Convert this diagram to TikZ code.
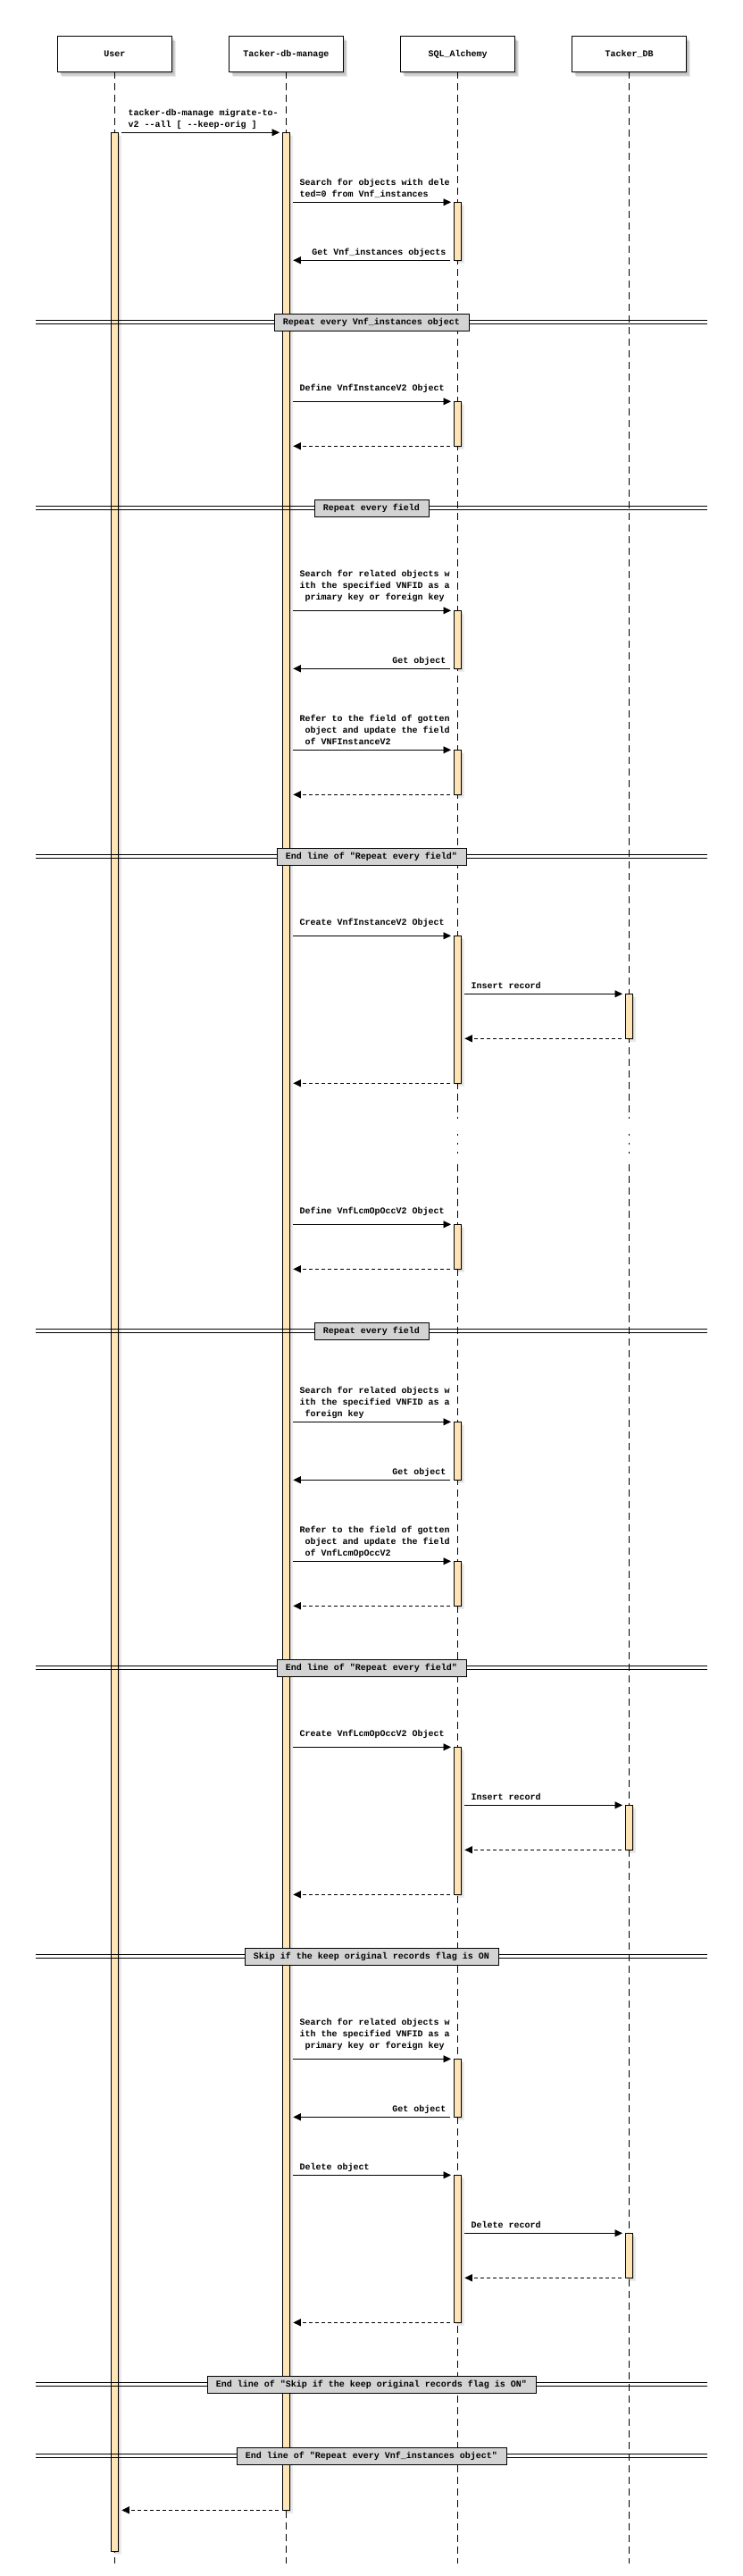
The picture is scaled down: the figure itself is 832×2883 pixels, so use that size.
\documentclass[tikz,border=0pt]{standalone}
\usepackage{fontspec}
\setmonofont{Liberation Mono}
\usetikzlibrary{arrows.meta,shadows}
\definecolor{actfill}{RGB}{255,228,181}
\definecolor{sepfill}{RGB}{211,211,211}
\newcommand\xU{128.5}
\newcommand\xM{320.5}
\newcommand\xS{512.5}
\newcommand\xD{704.5}
\tikzset{
  seqtext/.style={font=\ttfamily\bfseries\fontsize{10pt}{13pt}\selectfont, inner sep=0pt},
  hdrbox/.style={seqtext, draw, line width=0.9pt, fill=white,
    minimum width=128.7pt, minimum height=40pt, text height=7.5pt, text depth=1.5pt,
    general shadow={fill=black, opacity=0.10, shadow xshift=2.5pt, shadow yshift=-3pt},
    general shadow={fill=black, opacity=0.10, shadow xshift=3.5pt, shadow yshift=-4.5pt},
    general shadow={fill=black, opacity=0.08, shadow xshift=4.5pt, shadow yshift=-6pt}},
  lifeline/.style={line width=0.9pt, dash pattern=on 8pt off 5pt},
  actbar/.style={draw, line width=0.9pt, fill=actfill, minimum width=8pt, inner sep=0pt,
    general shadow={fill=black, opacity=0.10, shadow xshift=1.5pt, shadow yshift=-1.5pt},
    general shadow={fill=black, opacity=0.08, shadow xshift=3pt, shadow yshift=-3pt}},
  call/.style={line width=0.9pt, -{Triangle[length=8.5pt,width=8pt]}},
  reply/.style={call, dash pattern=on 4pt off 3pt},
  sepline/.style={line width=0.9pt},
  sepbox/.style={seqtext, draw, line width=0.9pt, fill=sepfill, minimum height=19pt,
    inner xsep=10pt, text height=7.5pt, text depth=1.5pt}
}
\newcommand\act[4]{\node[actbar, minimum height={(#4-#3)*1pt}, anchor=north] (#1) at (#2,#3) {};}
\newcommand\callmsg[4]{%
  \coordinate (#1s) at ({#2+7.5},#4);
  \coordinate (#1e) at ({#3-7.5},#4);
  \draw[call] (#1s) -- (#1e);}
\newcommand\retmsg[5]{%
  \coordinate (#1s) at ({#2-8.5},#4);
  \coordinate (#1e) at ({#3+7.8},#4);
  \draw[#5] (#1s) -- (#1e);}
\newcommand\lblL[4]{\node[seqtext, anchor=base west] (#1) at (#2,#3) {#4};}
\newcommand\lblR[4]{\node[seqtext, anchor=base east] (#1) at (#2,#3) {#4};}
\newcommand\sepline[3]{%
  \draw[sepline] (40,{#2-1.9}) -- (792,{#2-1.9});
  \draw[sepline] (40,{#2+1.9}) -- (792,{#2+1.9});
  \node[sepbox] (#1) at (416,#2) {#3};}
\begin{document}
\begin{tikzpicture}[x=1pt,y=-1pt]
\useasboundingbox (0,0) rectangle (832,2883);
% participants
\node[hdrbox] (user) at (\xU,60) {User};
\node[hdrbox] (mgr) at (\xM,60) {Tacker-db-manage};
\node[hdrbox] (sql) at (\xS,60) {SQL\_Alchemy};
\node[hdrbox] (db) at (\xD,60) {Tacker\_DB};
% lifelines
\coordinate (uend) at (\xU,2869.3);
\coordinate (mend) at (\xM,2869.3);
\coordinate (sgap1) at (\xS,1252);
\coordinate (sgap2) at (\xS,1302.5);
\coordinate (send) at (\xS,2869.3);
\coordinate (dgap1) at (\xD,1252);
\coordinate (dgap2) at (\xD,1302.5);
\coordinate (dend) at (\xD,2869.3);
\draw[lifeline] (user.south) -- (uend);
\draw[lifeline] (mgr.south) -- (mend);
\draw[lifeline] (sql.south) -- (sgap1);
\draw[lifeline] (sgap2) -- (send);
\draw[lifeline] (db.south) -- (dgap1);
\draw[lifeline] (dgap2) -- (dend);
\foreach \yy in {1270,1280,1290} {
  \draw[line width=0.9pt] (\xS,\yy-0.8) -- (\xS,\yy+0.8);
  \draw[line width=0.9pt] (\xD,\yy-0.8) -- (\xD,\yy+0.8);
}
% activation bars
\act{aU}{\xU}{148.3}{2855.3}
\act{aM}{\xM}{148.3}{2809.3}
\act{s1}{\xS}{226.3}{291.3}
\act{s2}{\xS}{449.3}{499.3}
\act{s3}{\xS}{683.3}{748.3}
\act{s4}{\xS}{839.3}{889.3}
\act{s5}{\xS}{1047.3}{1212.3}
\act{s6}{\xS}{1370.3}{1420.3}
\act{s7}{\xS}{1591.3}{1656.3}
\act{s8}{\xS}{1747.3}{1797.3}
\act{s9}{\xS}{1955.3}{2120.3}
\act{s10}{\xS}{2304.3}{2369.3}
\act{s11}{\xS}{2434.3}{2599.3}
\act{d1}{\xD}{1112.3}{1162.3}
\act{d2}{\xD}{2020.3}{2070.3}
\act{d3}{\xD}{2499.3}{2549.3}
% messages
\callmsg{m1}{\xU}{\xM}{148.3}
\lblL{t1}{\xU+15}{129.1}{\vtop{\hbox{tacker-db-manage migrate-to-}\hbox{v2 --all [ --keep-orig ]}}}
\callmsg{m2}{\xM}{\xS}{226.3}
\lblL{t2}{\xM+15}{207.1}{\vtop{\hbox{Search for objects with dele}\hbox{ted=0 from Vnf\_instances}}}
\retmsg{m3}{\xS}{\xM}{291.3}{call}
\lblR{t3}{\xS-12.8}{285.4}{Get Vnf\_instances objects}
\callmsg{m4}{\xM}{\xS}{449.3}
\lblL{t4}{\xM+15}{437.1}{Define VnfInstanceV2 Object}
\retmsg{m5}{\xS}{\xM}{499.3}{reply}
\callmsg{m6}{\xM}{\xS}{683.3}
\lblL{t6}{\xM+15}{645.1}{\vtop{\hbox{Search for related objects w}\hbox{ith the specified VNFID as a}\hbox{\ primary key or foreign key}}}
\retmsg{m7}{\xS}{\xM}{748.3}{call}
\lblR{t7}{\xS-12.8}{742.1}{Get object}
\callmsg{m8}{\xM}{\xS}{839.3}
\lblL{t8}{\xM+15}{807.1}{\vtop{\hbox{Refer to the field of gotten}\hbox{\ object and update the field}\hbox{\ of VNFInstanceV2}}}
\retmsg{m9}{\xS}{\xM}{889.3}{reply}
\callmsg{m10}{\xM}{\xS}{1047.3}
\lblL{t10}{\xM+15}{1035.1}{Create VnfInstanceV2 Object}
\callmsg{m11}{\xS}{\xD}{1112.3}
\lblL{t11}{\xS+15}{1106.1}{Insert record}
\retmsg{m12}{\xD}{\xS}{1162.3}{reply}
\retmsg{m13}{\xS}{\xM}{1212.3}{reply}
\callmsg{m14}{\xM}{\xS}{1370.3}
\lblL{t14}{\xM+15}{1358.1}{Define VnfLcmOpOccV2 Object}
\retmsg{m15}{\xS}{\xM}{1420.3}{reply}
\callmsg{m16}{\xM}{\xS}{1591.3}
\lblL{t16}{\xM+15}{1559.1}{\vtop{\hbox{Search for related objects w}\hbox{ith the specified VNFID as a}\hbox{\ foreign key}}}
\retmsg{m17}{\xS}{\xM}{1656.3}{call}
\lblR{t17}{\xS-12.8}{1650.1}{Get object}
\callmsg{m18}{\xM}{\xS}{1747.3}
\lblL{t18}{\xM+15}{1715.1}{\vtop{\hbox{Refer to the field of gotten}\hbox{\ object and update the field}\hbox{\ of VnfLcmOpOccV2}}}
\retmsg{m19}{\xS}{\xM}{1797.3}{reply}
\callmsg{m20}{\xM}{\xS}{1955.3}
\lblL{t20}{\xM+15}{1943.1}{Create VnfLcmOpOccV2 Object}
\callmsg{m21}{\xS}{\xD}{2020.3}
\lblL{t21}{\xS+15}{2014.1}{Insert record}
\retmsg{m22}{\xD}{\xS}{2070.3}{reply}
\retmsg{m23}{\xS}{\xM}{2120.3}{reply}
\callmsg{m24}{\xM}{\xS}{2304.3}
\lblL{t24}{\xM+15}{2266.1}{\vtop{\hbox{Search for related objects w}\hbox{ith the specified VNFID as a}\hbox{\ primary key or foreign key}}}
\retmsg{m25}{\xS}{\xM}{2369.3}{call}
\lblR{t25}{\xS-12.8}{2363.1}{Get object}
\callmsg{m26}{\xM}{\xS}{2434.3}
\lblL{t26}{\xM+15}{2428.1}{Delete object}
\callmsg{m27}{\xS}{\xD}{2499.3}
\lblL{t27}{\xS+15}{2493.1}{Delete record}
\retmsg{m28}{\xD}{\xS}{2549.3}{reply}
\retmsg{m29}{\xS}{\xM}{2599.3}{reply}
\retmsg{m30}{\xM}{\xU}{2809.3}{reply}
% separators
\sepline{p1}{360.6}{Repeat every Vnf\_instances object}
\sepline{p2}{568.8}{Repeat every field}
\sepline{p3}{958.8}{End line of "Repeat every field"}
\sepline{p4}{1489.8}{Repeat every field}
\sepline{p5}{1866.8}{End line of "Repeat every field"}
\sepline{p6}{2189.8}{Skip if the keep original records flag is ON}
\sepline{p7}{2668.8}{End line of "Skip if the keep original records flag is ON"}
\sepline{p8}{2748.8}{End line of "Repeat every Vnf\_instances object"}
\end{tikzpicture}
\end{document}
